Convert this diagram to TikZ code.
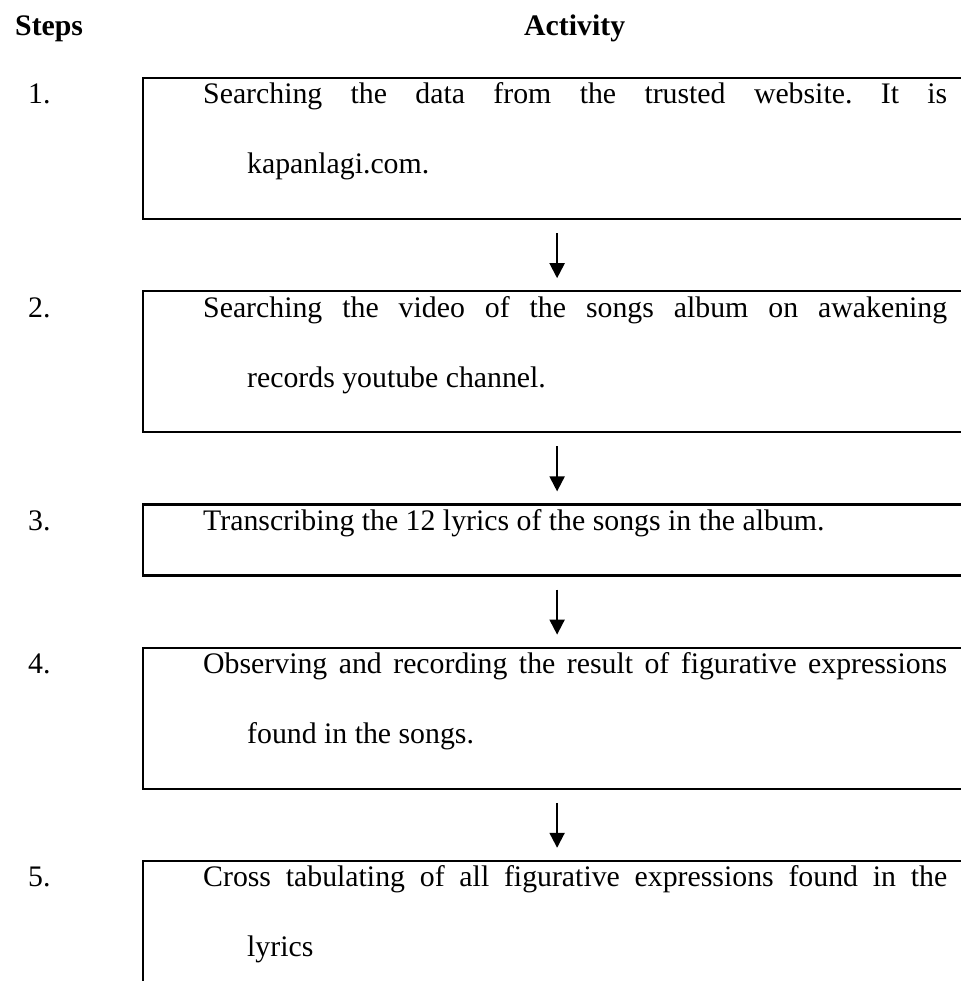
\documentclass[tikz,border=0pt]{standalone}
\usepackage{fontspec}
\setmainfont{Liberation Serif}
\usetikzlibrary{positioning,calc,arrows.meta}

\newcommand\steptext[1]{\parbox[t]{744pt}{\frenchspacing\parshape 2 0pt 744pt 44pt 700pt #1}}

\begin{document}
\begin{tikzpicture}[x=1pt,y=-1pt,
    box/.style={draw,line width=2.2pt,minimum width=828pt,inner sep=0pt},
    twoline/.style={box,minimum height=141pt},
    oneline/.style={box,minimum height=71pt},
    head/.style={anchor=base west,inner sep=0pt,font=\fontsize{29.8}{36}\selectfont\bfseries},
    num/.style={anchor=base west,inner sep=0pt,font=\fontsize{29.8}{36}\selectfont},
    txt/.style={anchor=base west,inner sep=0pt,font=\fontsize{29.8}{70}\selectfont},
    flow/.style={line width=2pt,-{Triangle[width=15pt,length=15pt]},shorten <=13pt,shorten >=12pt}]
  \useasboundingbox (0,0) rectangle (960,981);

  \node[head] (steps) at (15,36) {Steps};
  \node[head] (activity) at (524,36) {Activity};

  \node[twoline,anchor=north west] (b1) at (142,77) {};
  \node[twoline,below=70pt of b1] (b2) {};
  \node[oneline,below=70pt of b2] (b3) {};
  \node[twoline,below=70pt of b3] (b4) {};
  \node[twoline,below=70pt of b4] (b5) {};

  \node[num] (n1) at ($(b1.north west)+(-114,27)$) {1.};
  \node[num] (n2) at ($(b2.north west)+(-114,27)$) {2.};
  \node[num] (n3) at ($(b3.north west)+(-114,27)$) {3.};
  \node[num] (n4) at ($(b4.north west)+(-114,27)$) {4.};
  \node[num] (n5) at ($(b5.north west)+(-114,27)$) {5.};

  \node[txt] (t1) at ($(b1.north west)+(61,27)$)
    {\steptext{Searching the data from the trusted website. It is\linebreak kapanlagi.com.}};
  \node[txt] (t2) at ($(b2.north west)+(61,27)$)
    {\steptext{Searching the video of the songs album on awakening\linebreak records youtube channel.}};
  \node[txt] (t3) at ($(b3.north west)+(61,27)$)
    {\steptext{Transcribing the 12 lyrics of the songs in the album.}};
  \node[txt] (t4) at ($(b4.north west)+(61,27)$)
    {\steptext{Observing and recording the result of figurative expressions\linebreak found in the songs.}};
  \node[txt] (t5) at ($(b5.north west)+(61,27)$)
    {\steptext{Cross tabulating of all figurative expressions found in the\linebreak lyrics}};

  \draw[flow] (b1) -- (b2);
  \draw[flow] (b2) -- (b3);
  \draw[flow] (b3) -- (b4);
  \draw[flow] (b4) -- (b5);
\end{tikzpicture}
\end{document}
